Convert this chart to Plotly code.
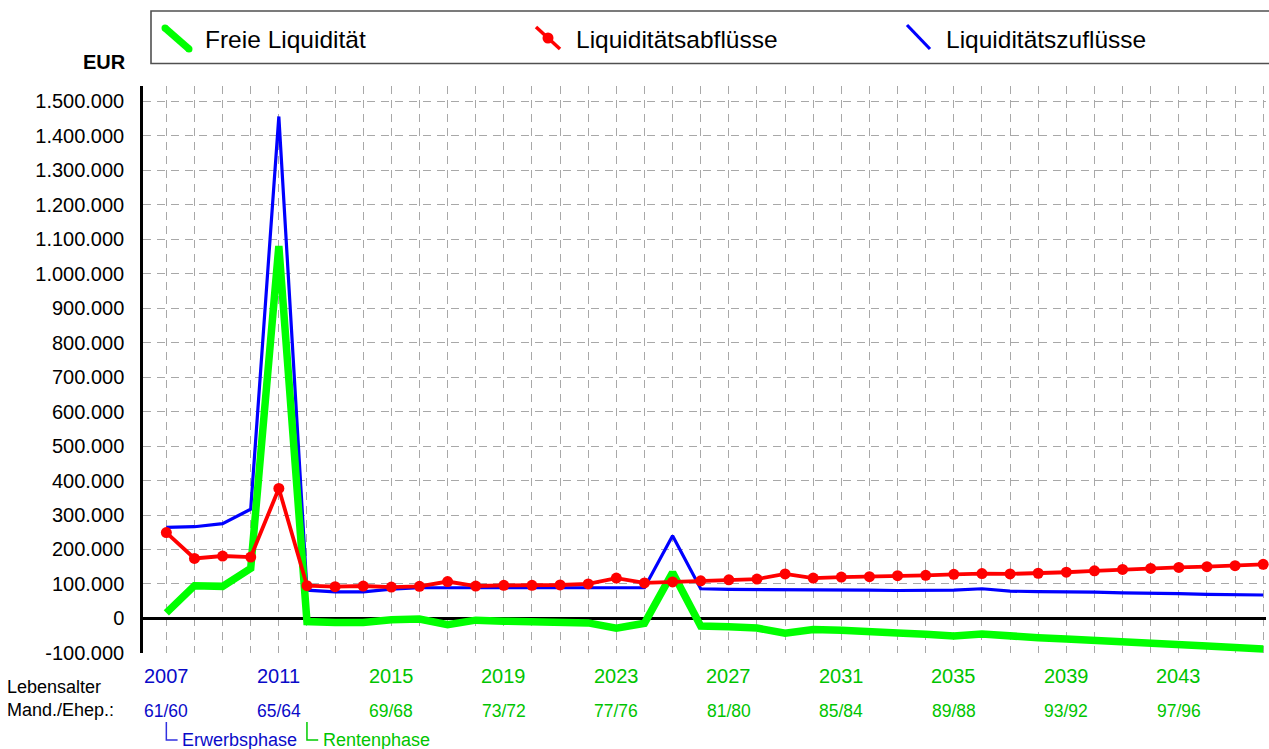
import plotly.graph_objects as go

# ---------------- data ----------------
YEARS = [2007, 2008, 2009, 2010, 2011, 2012, 2013, 2014, 2015, 2016,
         2017, 2018, 2019, 2020, 2021, 2022, 2023, 2024, 2025, 2026,
         2027, 2028, 2029, 2030, 2031, 2032, 2033, 2034, 2035, 2036,
         2037, 2038, 2039, 2040, 2041, 2042, 2043, 2044, 2045, 2046]

FREIE_LIQUIDITAET = [16000, 95000, 93000, 145000, 1080000, -9000, -12000, -12000, -4000, -2000,
                     -18000, -5000, -8000, -9000, -11000, -13000, -28000, -14000, 133000, -22000,
                     -24000, -28000, -43000, -32000, -34000, -40000, -42000, -46000, -51000, -45000,
                     -52000, -56000, -60000, -65000, -69000, -72000, -76000, -80000, -84000, -89000]

LIQ_ABFLUESSE = [249000, 174000, 181000, 178000, 377000, 95000, 92000, 94000, 91000, 93000,
                 107000, 94000, 96000, 96000, 97000, 100000, 117000, 103000, 106000, 109000,
                 112000, 114000, 129000, 117000, 120000, 121000, 124000, 125000, 128000, 130000,
                 129000, 131000, 134000, 138000, 142000, 145000, 148000, 150000, 153000, 157000]

LIQ_ZUFLUESSE = [264000, 266000, 275000, 317000, 1456000, 82000, 77000, 77000, 85000, 89000,
                 89000, 89000, 89000, 89000, 89000, 89000, 89000, 89000, 240000, 86000,
                 84000, 84000, 84000, 84000, 82000, 82000, 81000, 81000, 82000, 86000,
                 79000, 78000, 78000, 76000, 74000, 74000, 72000, 70000, 69000, 68000]

Y_TICK_VALUES = [-100000, 0, 100000, 200000, 300000, 400000, 500000, 600000, 700000,
                 800000, 900000, 1000000, 1100000, 1200000, 1300000, 1400000, 1500000]
Y_TICK_LABELS = ["-100.000", "0", "100.000", "200.000", "300.000", "400.000", "500.000",
                 "600.000", "700.000", "800.000", "900.000", "1.000.000", "1.100.000",
                 "1.200.000", "1.300.000", "1.400.000", "1.500.000"]

LABEL_YEARS = [2007, 2011, 2015, 2019, 2023, 2027, 2031, 2035, 2039, 2043]
YEAR_LABELS = ["2007", "2011", "2015", "2019", "2023", "2027", "2031", "2035", "2039", "2043"]
AGE_LABELS = ["61/60", "65/64", "69/68", "73/72", "77/76", "81/80", "85/84", "89/88", "93/92", "97/96"]

ERWERB_START = 2007
RENTEN_START = 2012

SERIES_NAMES = ["Freie Liquidität", "Liquiditätsabflüsse", "Liquiditätszuflüsse"]

# ---------------- style ----------------
FONT = "Liberation Sans, Arial, sans-serif"
GREEN = "#00ff00"
RED = "#ff0000"
BLUE = "#0000ff"
TXT_BLUE = "#0a0ac8"
TXT_GREEN = "#00c400"

W, H = 1269, 749
ML, MR, MT, MB = 143, 3, 86, 96
PW = W - ML - MR
PH = H - MT - MB


def px(x):
    return (x - ML) / PW


def py(y):
    return (H - MB - y) / PH


fig = go.Figure()

fig.add_trace(go.Scatter(x=YEARS, y=LIQ_ZUFLUESSE, mode="lines", name=SERIES_NAMES[2],
                         line=dict(color=BLUE, width=3.2), showlegend=False))
fig.add_trace(go.Scatter(x=YEARS, y=FREIE_LIQUIDITAET, mode="lines", name=SERIES_NAMES[0],
                         line=dict(color=GREEN, width=7.5), showlegend=False))
fig.add_trace(go.Scatter(x=YEARS, y=LIQ_ABFLUESSE, mode="lines+markers", name=SERIES_NAMES[1],
                         line=dict(color=RED, width=3.8),
                         marker=dict(color=RED, size=11), cliponaxis=False, showlegend=False))

grid = dict(gridcolor="#a8a8a8", gridwidth=1.3, griddash="8px,6px")

fig.update_xaxes(range=[2006.17, 2046.1], tickmode="linear", tick0=2007, dtick=1,
                 showticklabels=False, ticks="", showline=False, zeroline=False,
                 automargin=False, **grid)
fig.update_yaxes(range=[-100300, 1544400], tickmode="array", tickvals=Y_TICK_VALUES,
                 ticktext=Y_TICK_LABELS, ticks="", ticklabelstandoff=12,
                 tickfont=dict(family=FONT, size=20, color="#000000"),
                 showline=True, linecolor="#000000", linewidth=2.5,
                 zeroline=True, zerolinecolor="#000000", zerolinewidth=2.5,
                 automargin=False, **grid)

annotations = []
shapes = []

# EUR unit label
annotations.append(dict(text="<b>EUR</b>", x=px(128), y=py(62), xref="paper", yref="paper",
                        xanchor="right", yanchor="middle", showarrow=False,
                        font=dict(family=FONT, size=20, color="#000000")))

# year and age labels
for yr, lab, age in zip(LABEL_YEARS, YEAR_LABELS, AGE_LABELS):
    col = TXT_BLUE if yr < RENTEN_START else TXT_GREEN
    annotations.append(dict(text=lab, x=yr, y=py(676), xref="x", yref="paper",
                            xanchor="center", yanchor="middle", showarrow=False,
                            font=dict(family=FONT, size=20, color=col)))
    annotations.append(dict(text=age, x=yr, y=py(711), xref="x", yref="paper",
                            xanchor="center", yanchor="middle", showarrow=False,
                            font=dict(family=FONT, size=17.5, color=col)))

annotations.append(dict(text="Lebensalter", x=px(5), y=py(687), xref="paper", yref="paper",
                        xanchor="left", yanchor="middle", showarrow=False,
                        font=dict(family=FONT, size=18, color="#000000")))
annotations.append(dict(text="Mand./Ehep.:", x=px(5), y=py(710), xref="paper", yref="paper",
                        xanchor="left", yanchor="middle", showarrow=False,
                        font=dict(family=FONT, size=18, color="#000000")))

# phase brackets
for start, col, txt, tx in [(ERWERB_START, "#3030e0", "Erwerbsphase", 180),
                            (RENTEN_START, "#00cc00", "Rentenphase", 321)]:
    shapes.append(dict(type="path", xref="x", yref="paper",
                       path=f"M {start},{py(722)} L {start},{py(740)} L {start + 0.4},{py(740)}",
                       line=dict(color=col, width=1.5)))
    annotations.append(dict(text=txt, x=px(tx), y=py(740), xref="paper", yref="paper",
                            xanchor="left", yanchor="middle", showarrow=False,
                            font=dict(family=FONT, size=18, color=TXT_BLUE if start < RENTEN_START else TXT_GREEN)))

# legend box
shapes.append(dict(type="rect", xref="paper", yref="paper",
                   x0=px(151), x1=px(1300), y0=py(63.5), y1=py(11),
                   line=dict(color="#505050", width=1.6), fillcolor="rgba(0,0,0,0)"))
# legend symbols
shapes.append(dict(type="line", xref="paper", yref="paper", x0=px(165), y0=py(28), x1=px(189), y1=py(49),
                   line=dict(color=GREEN, width=7)))
for cx, cy in [(165, 28), (189, 49)]:
    shapes.append(dict(type="circle", xref="paper", yref="paper", x0=px(cx - 3.5), y0=py(cy + 3.5),
                       x1=px(cx + 3.5), y1=py(cy - 3.5), line=dict(width=0), fillcolor=GREEN))
shapes.append(dict(type="line", xref="paper", yref="paper", x0=px(536), y0=py(27), x1=px(560), y1=py(49),
                   line=dict(color=RED, width=3.5)))
shapes.append(dict(type="circle", xref="paper", yref="paper", x0=px(542.5), y0=py(32.5),
                   x1=px(553.5), y1=py(43.5), line=dict(color=RED, width=0), fillcolor=RED))
shapes.append(dict(type="line", xref="paper", yref="paper", x0=px(907), y0=py(25), x1=px(930), y1=py(49),
                   line=dict(color=BLUE, width=3.2)))

for name, tx in zip(SERIES_NAMES, [203, 574, 944]):
    annotations.append(dict(text=name, x=px(tx), y=py(40), xref="paper", yref="paper",
                            xanchor="left", yanchor="middle", showarrow=False,
                            font=dict(family=FONT, size=24.5, color="#000000")))

fig.update_layout(width=W, height=H, margin=dict(l=ML, r=MR, t=MT, b=MB, pad=0),
                  paper_bgcolor="#ffffff", plot_bgcolor="#ffffff",
                  font=dict(family=FONT), showlegend=False,
                  annotations=annotations, shapes=shapes)

fig.write_html("out.html", config={"displayModeBar": False},
               post_script="document.body.style.margin='0px';"
                           "document.body.style.overflow='hidden';")
